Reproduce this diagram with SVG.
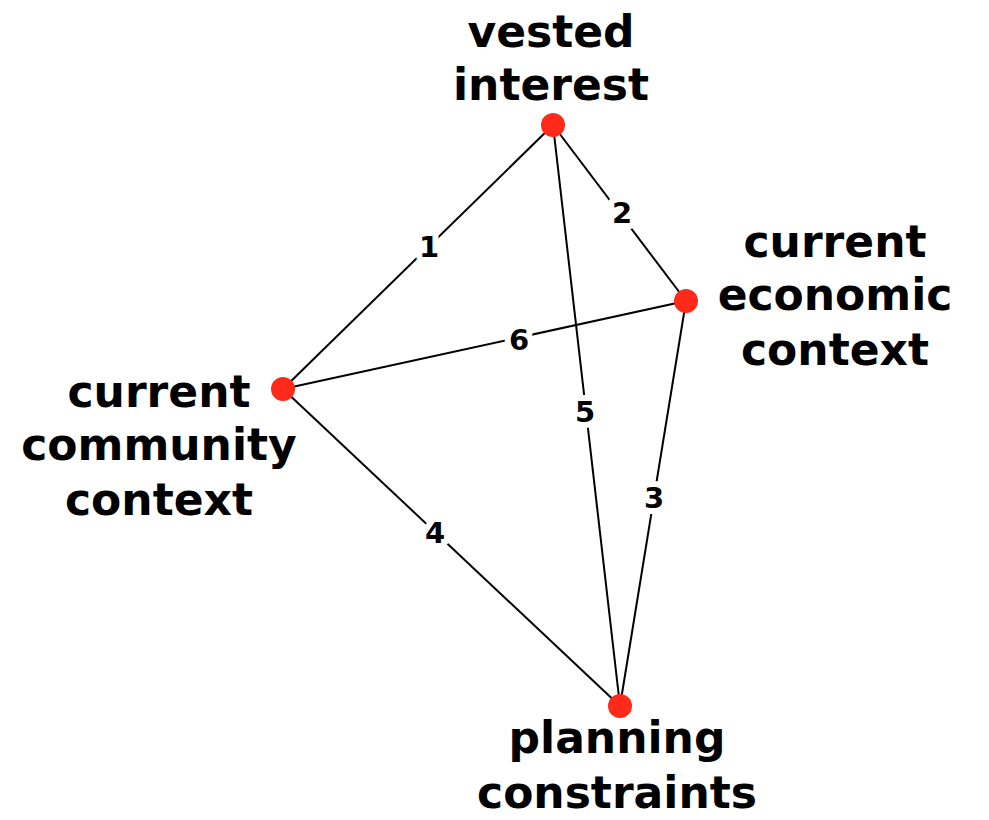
<svg xmlns="http://www.w3.org/2000/svg" width="989" height="820" viewBox="0 0 989 820">
<style>
.edge{stroke:#000;stroke-width:2;fill:none}
.dot{fill:#ff2a1a}
.lbl{font-family:"DejaVu Sans",Verdana,sans-serif;font-weight:bold;font-size:44px;fill:#000;text-anchor:middle}
.num{font-family:"DejaVu Sans",Verdana,sans-serif;font-weight:bold;font-size:29px;fill:#000;text-anchor:middle;stroke:#fff;stroke-width:12px;paint-order:stroke;stroke-linejoin:round}
</style>
<rect width="989" height="820" fill="#fff"/>
<g id="connectors">
<line class="edge" x1="553" y1="125" x2="283" y2="389"/>
<line class="edge" x1="553" y1="125" x2="686" y2="301"/>
<line class="edge" x1="686" y1="301" x2="620" y2="706"/>
<line class="edge" x1="283" y1="389" x2="620" y2="706"/>
<line class="edge" x1="553" y1="125" x2="620" y2="706"/>
<line class="edge" x1="283" y1="389" x2="686" y2="301"/>
<text class="num" x="429" y="257">1</text>
<text class="num" x="622" y="223">2</text>
<text class="num" x="654" y="508">3</text>
<text class="num" x="435" y="543">4</text>
<text class="num" x="585" y="422">5</text>
<text class="num" x="519" y="350">6</text>
</g>
<g id="vested-interest">
<circle class="dot" cx="553" cy="125" r="12"/>
<text class="lbl" x="551" y="47">vested</text>
<text class="lbl" x="551" y="100">interest</text>
</g>
<g id="current-economic-context">
<circle class="dot" cx="686" cy="301" r="12"/>
<text class="lbl" x="835" y="257">current</text>
<text class="lbl" x="835" y="310">economic</text>
<text class="lbl" x="835" y="365">context</text>
</g>
<g id="current-community-context">
<circle class="dot" cx="283" cy="389" r="12"/>
<text class="lbl" x="159" y="407">current</text>
<text class="lbl" x="159" y="460">community</text>
<text class="lbl" x="159" y="515">context</text>
</g>
<g id="planning-constraints">
<circle class="dot" cx="620" cy="706" r="12"/>
<text class="lbl" x="617" y="753">planning</text>
<text class="lbl" x="617" y="808">constraints</text>
</g>
</svg>
